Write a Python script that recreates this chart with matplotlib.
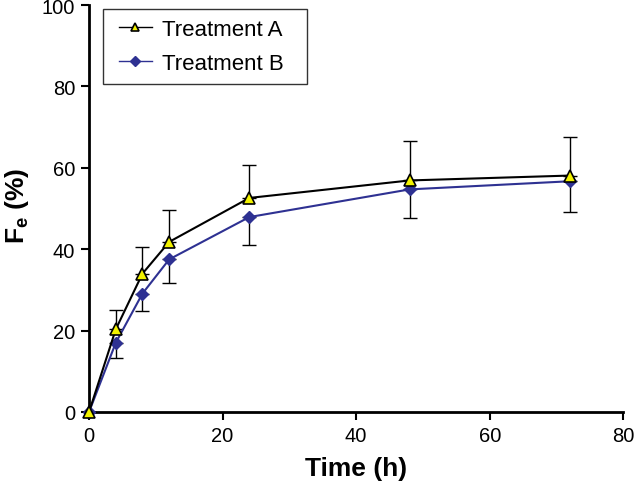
import numpy as np
import matplotlib.pyplot as plt
from matplotlib.legend_handler import HandlerLine2D

plt.rcParams['font.family'] = ['Liberation Sans', 'DejaVu Sans']
plt.rcParams['mathtext.fontset'] = 'custom'
plt.rcParams['mathtext.rm'] = 'Liberation Sans'
plt.rcParams['mathtext.bf'] = 'Liberation Sans:bold'

time_h = [0, 4, 8, 12, 24, 48, 72]
treatment_a = [0, 20.3, 34.0, 41.8, 52.6, 56.9, 58.1]
treatment_a_err = [0, 4.7, 6.5, 7.9, 8.2, 9.7, 9.5]
treatment_b = [0, 17.0, 29.1, 37.5, 47.9, 54.7, 56.7]
treatment_b_err = [0, 3.7, 4.4, 5.7, 6.8, 7.0, 7.5]

navy = '#2e3192'

fig = plt.figure(figsize=(6.36, 4.85), dpi=100)
ax = fig.add_axes([0.140, 0.1485, 0.840, 0.839])

# one-sided error bars: A goes up, B goes down
ax.errorbar(time_h, treatment_a, yerr=[np.zeros(len(treatment_a_err)), treatment_a_err],
            fmt='none', ecolor='black', elinewidth=1, capsize=5, capthick=1, zorder=2)
ax.errorbar(time_h, treatment_b, yerr=[treatment_b_err, np.zeros(len(treatment_b_err))],
            fmt='none', ecolor='black', elinewidth=1, capsize=5, capthick=1, zorder=2)

line_b, = ax.plot(time_h, treatment_b, color=navy, lw=1.5, marker='D', markersize=6,
                  markerfacecolor=navy, markeredgecolor=navy, label='Treatment B', zorder=3, clip_on=False)
line_a, = ax.plot(time_h, treatment_a, color='black', lw=1.5, marker='^', markersize=8,
                  markerfacecolor='#f2f200', markeredgecolor='black', markeredgewidth=1.2,
                  label='Treatment A', zorder=4, clip_on=False)

ax.set_xlim(0, 80)
ax.set_ylim(0, 100)
ax.set_xticks([0, 20, 40, 60, 80])
ax.set_yticks([0, 20, 40, 60, 80, 100])

for s in ['top', 'right']:
    ax.spines[s].set_visible(False)
for s in ['left', 'bottom']:
    ax.spines[s].set_linewidth(2)
ax.tick_params(direction='out', length=6, width=1.5, labelsize=14.5, pad=4)

ax.set_xlabel('Time (h)', fontsize=19, fontweight='bold')
ax.set_ylabel(r'F$_\mathbf{e}$ (%)', fontsize=19, fontweight='bold')
ax.xaxis.set_label_coords(0.5, -0.108)
ax.yaxis.set_label_coords(-0.109, 0.51)

leg = ax.legend([line_a, line_b], ['Treatment A', 'Treatment B'], loc='upper left',
                bbox_to_anchor=(0.026, 0.0, 0.382, 0.991), mode='expand',
                borderaxespad=0, fontsize=16, frameon=True, fancybox=False, edgecolor='black',
                handlelength=1.75, handletextpad=0.45, borderpad=0.45, labelspacing=0.6,
                handler_map={line_a: HandlerLine2D(xpad=0.27), line_b: HandlerLine2D(xpad=0.27)})
leg.get_frame().set_linewidth(1)
for h in leg.legend_handles:
    h.set_markersize(5.5)
    h.set_linewidth(1)

fig.savefig('out.png', dpi=100)
